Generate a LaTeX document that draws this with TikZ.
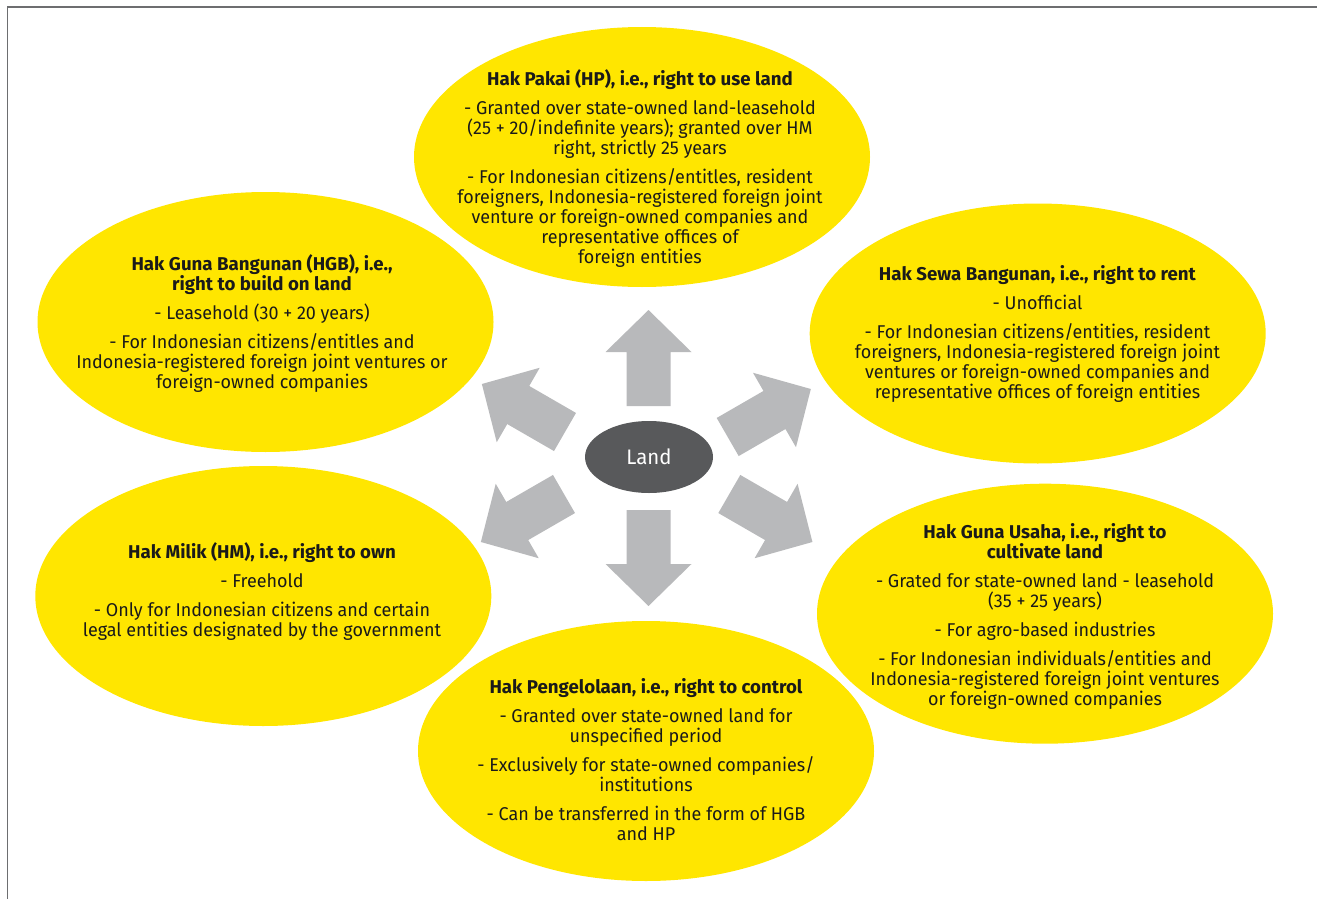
\documentclass[tikz,border=0pt]{standalone}
\usepackage{fontspec}
\setmainfont{Fira Sans}[FakeStretch=0.97, BoldFeatures={FakeStretch=1.01}]
\usetikzlibrary{shapes.geometric}
\definecolor{eyyellow}{HTML}{FFE600}
\definecolor{arrowgray}{HTML}{B8B9BB}
\definecolor{landgray}{HTML}{58595B}
\definecolor{framegray}{HTML}{6D6E70}
\definecolor{txt}{HTML}{1A1A1A}
\newcommand\landarrow[3]{%
  \fill[arrowgray, shift={(#1,#2)}, rotate=#3]
    (0,-22) -- (54,-22) -- (54,-43) -- (96,0) -- (54,43) -- (54,22) -- (0,22) -- cycle;}
\begin{document}
\begin{tikzpicture}[x=1pt, y=-1pt,
  bubble/.style={ellipse, fill=eyyellow, minimum width=456pt, minimum height=260pt, inner sep=0pt},
  btext/.style={align=center, text=txt, inner sep=0pt, font=\fontsize{18.5}{20}\selectfont}]
\useasboundingbox (0,0) rectangle (1317,899);
\draw[framegray, line width=1.5pt] (7.5,899) -- (7.5,7) -- (1317,7);

% bubbles
\node[bubble] (hp)   at (642,157)   {};
\node[bubble] (hgb)  at (265.5,322) {};
\node[bubble] (hsb)  at (1037.7,333.5) {};
\node[bubble] (hm)   at (263.3,596) {};
\node[bubble] (hpl)  at (646,751)   {};
\node[bubble] (hgu)  at (1045,613.7) {};

% arrows
\landarrow{648.5}{406}{90}
\landarrow{648.5}{510}{-90}
\landarrow{565}{432}{150}
\landarrow{727.7}{437}{30}
\landarrow{564}{494}{210}
\landarrow{729.3}{494}{-30}

\node[ellipse, fill=landgray, minimum width=128pt, minimum height=72pt, inner sep=0pt,
  text=white, font=\fontsize{21}{22}\selectfont] (land) at (649,457) {Land};

% texts
\node[btext] (hp-t) at (640,169) {\textbf{Hak Pakai (HP), i.e., right to use land}\\[9pt]
- Granted over state-owned land-leasehold\\
(25 + 20/indefinite years); granted over HM\\
right, strictly 25 years\\[9pt]
- For Indonesian citizens/entitles, resident\\
foreigners, Indonesia-registered foreign joint\\
venture or foreign-owned companies and\\
representative offices of\\
foreign entities};

\node[btext] (hgb-t) at (262,324) {\textbf{Hak Guna Bangunan (HGB), i.e.,}\\
\textbf{right to build on land}\\[9pt]
- Leasehold (30 + 20 years)\\[9pt]
- For Indonesian citizens/entitles and\\
Indonesia-registered foreign joint ventures or\\
foreign-owned companies};

\node[btext] (hsb-t) at (1037.5,334.2) {\textbf{Hak Sewa Bangunan, i.e., right to rent}\\[9pt]
- Unofficial\\[9pt]
- For Indonesian citizens/entities, resident\\
foreigners, Indonesia-registered foreign joint\\
ventures or foreign-owned companies and\\
representative offices of foreign entities};

\node[btext] (hm-t) at (262,591.4) {\textbf{Hak Milik (HM), i.e., right to own}\\[9pt]
- Freehold\\[9pt]
- Only for Indonesian citizens and certain\\
legal entities designated by the government};

\node[btext] (hpl-t) at (646,759.2) {\textbf{Hak Pengelolaan, i.e., right to control}\\[9pt]
- Granted over state-owned land for\\
unspecified period\\[9pt]
- Exclusively for state-owned companies/\\
institutions\\[9pt]
- Can be transferred in the form of HGB\\
and HP};

\node[btext] (hgu-t) at (1045,616.2) {\textbf{Hak Guna Usaha, i.e., right to}\\
\textbf{cultivate land}\\[9pt]
- Grated for state-owned land - leasehold\\
(35 + 25 years)\\[9pt]
- For agro-based industries\\[9pt]
- For Indonesian individuals/entities and\\
Indonesia-registered foreign joint ventures\\
or foreign-owned companies};
\end{tikzpicture}
\end{document}
